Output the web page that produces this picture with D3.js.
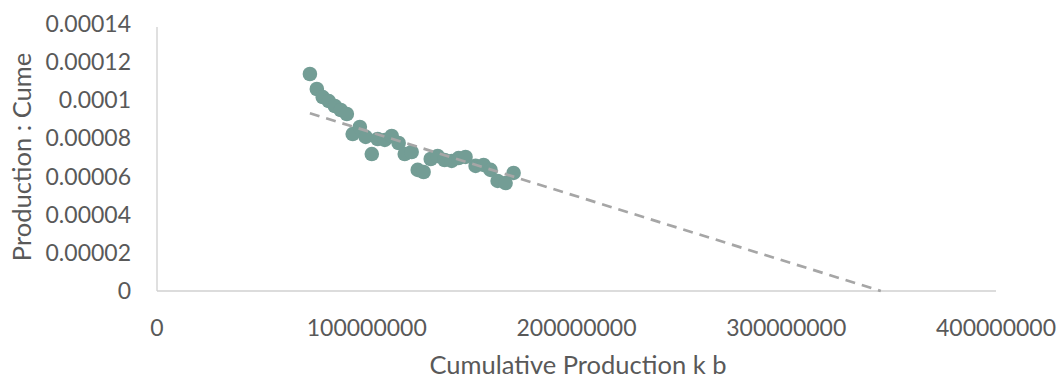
<!DOCTYPE html>
<html>
<head>
<meta charset="utf-8">
<script src="https://cdn.jsdelivr.net/npm/d3@7"></script>
<style>
  body { margin: 0; background: #fff; }
  text { font-family: Lato, "Open Sans", sans-serif; fill: #595959; }
</style>
</head>
<body>
<svg width="1057" height="379"></svg>
<script>
// cumulative production (k b)
var cume = [72.9e6, 76.2e6, 79.0e6, 81.9e6, 84.8e6, 87.6e6, 90.5e6, 93.3e6, 96.7e6, 99.5e6,
  102.4e6, 105.2e6, 108.6e6, 111.9e6, 115.2e6, 118.1e6, 121.4e6, 124.3e6, 127.1e6, 130.5e6,
  133.8e6, 137.1e6, 140.5e6, 143.8e6, 147.1e6, 151.9e6, 155.7e6, 159.0e6, 162.4e6, 166.2e6, 170.0e6];
// production : cume ratio
var ratio = [0.0001138, 0.0001059, 0.0001017, 0.0000996, 0.0000970, 0.0000949, 0.0000928, 0.0000823,
  0.0000860, 0.0000808, 0.0000718, 0.0000797, 0.0000792, 0.0000813, 0.0000776, 0.0000718, 0.0000729,
  0.0000635, 0.0000624, 0.0000692, 0.0000708, 0.0000687, 0.0000682, 0.0000697, 0.0000703, 0.0000656,
  0.0000661, 0.0000635, 0.0000577, 0.0000566, 0.0000619];
// trendline as drawn in the chart (forecast forward to zero)
var trendX = [72.9e6, 345.1e6];
var trendY = [0.0000932, 0];
var xTicks = [0, 100000000, 200000000, 300000000, 400000000];
var yTicks = [0, 0.00002, 0.00004, 0.00006, 0.00008, 0.0001, 0.00012, 0.00014];

var svg = d3.select("svg");
var plotL = 157, plotR = 996, plotT = 24, plotB = 291;

var x = d3.scaleLinear().domain([0, 400000000]).range([plotL, plotR]);
var y = d3.scaleLinear().domain([0, 0.00014]).range([plotB, plotT]);

// axis lines
svg.append("line").attr("x1", plotL).attr("x2", plotR).attr("y1", plotB).attr("y2", plotB)
  .attr("stroke", "#d0d0d0").attr("stroke-width", 1.3);
svg.append("line").attr("x1", plotL).attr("x2", plotL).attr("y1", plotT + 3).attr("y2", plotB)
  .attr("stroke", "#d0d0d0").attr("stroke-width", 1.3);

// tick labels
svg.selectAll(".yt").data(yTicks).enter().append("text")
  .attr("x", 131).attr("y", d => y(d) + 8)
  .attr("text-anchor", "end").style("font-size", "23px")
  .text(d => d === 0 ? "0" : String(+d.toPrecision(6)));
svg.selectAll(".xt").data(xTicks).enter().append("text")
  .attr("x", d => x(d)).attr("y", 336)
  .attr("text-anchor", "middle").style("font-size", "23px")
  .text(d => String(d));

// axis titles
svg.append("text").attr("x", 578).attr("y", 374).attr("text-anchor", "middle")
  .style("font-size", "25.5px").text("Cumulative Production k b");
svg.append("text").attr("transform", "translate(31,157) rotate(-90)").attr("text-anchor", "middle")
  .style("font-size", "25.5px").text("Production : Cume");

// points
var pts = cume.map((c, i) => [c, ratio[i]]);
svg.selectAll(".pt").data(pts).enter().append("circle")
  .attr("cx", d => x(d[0])).attr("cy", d => y(d[1])).attr("r", 7.3)
  .attr("fill", "#739d95");

// trendline
svg.append("path")
  .datum(trendX.map((v, i) => [v, trendY[i]]))
  .attr("d", d3.line().x(d => x(d[0])).y(d => y(d[1])))
  .attr("fill", "none")
  .attr("stroke", "#a6a6a6").attr("stroke-width", 2.7).attr("stroke-dasharray", "10,7");
</script>
</body>
</html>
